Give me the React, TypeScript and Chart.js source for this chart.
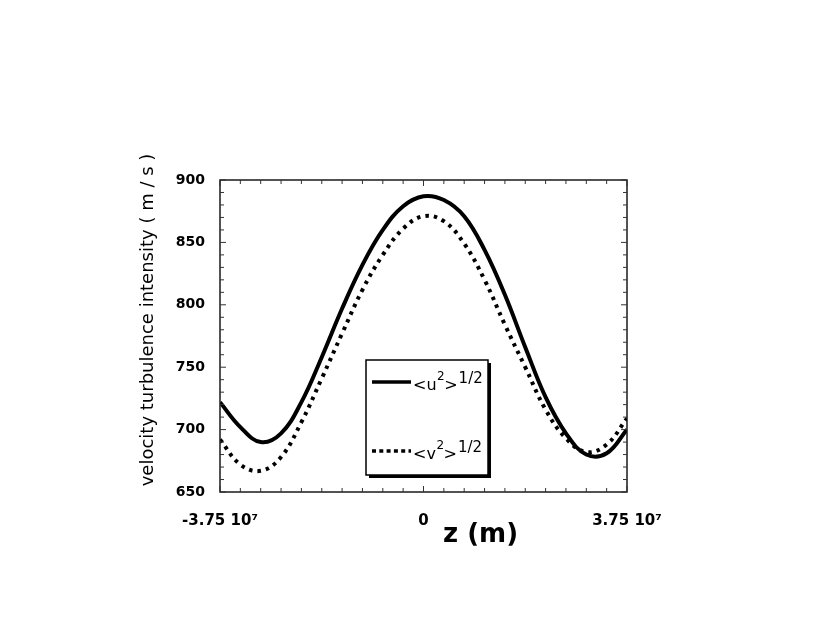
import React, { useRef, useEffect } from "react";
import { Chart, ChartOptions, Plugin, registerables } from "chart.js";

Chart.register(...registerables);

// z positions (m), one sample every 3.75e6 m
const zPositions = [
  -3.75e7, -3.375e7, -3.0e7, -2.625e7, -2.25e7, -1.875e7, -1.5e7, -1.125e7, -7.5e6, -3.75e6, 0,
  3.75e6, 7.5e6, 1.125e7, 1.5e7, 1.875e7, 2.25e7, 2.625e7, 3.0e7, 3.375e7, 3.75e7,
];
// <u^2>^1/2 (solid) and <v^2>^1/2 (dotted), m/s
const uRms = [722, 702, 690, 697, 722, 758, 797, 832, 860, 879, 887, 884, 871, 844, 808, 766, 726, 697, 680, 681, 700];
const vRms = [692, 672, 667, 678, 706, 741, 777, 812, 840, 861, 871, 867, 849, 820, 784, 750, 716, 693, 682, 688, 709];

const xTickValues = [-3.75e7, 0, 3.75e7];
const xTickLabels = ["-3.75 10\u2077", "0", "3.75 10\u2077"];
const legendSymbols = ["u", "v"];

const FONT = "'DejaVu Sans', sans-serif";

const decorations: Plugin = {
  id: "decorations",
  afterDatasetsDraw(chart) {
    const { ctx, chartArea: a, scales } = chart;
    const xs = scales.x;
    const ys = scales.y;
    ctx.save();

    // frame
    ctx.strokeStyle = "#1a1a1a";
    ctx.lineWidth = 1.5;
    ctx.strokeRect(a.left, a.top, a.right - a.left, a.bottom - a.top);

    // inward ticks on all four sides
    ctx.lineWidth = 1;
    ctx.strokeStyle = "#333";
    ctx.beginPath();
    for (let v = 650; v <= 900; v += 10) {
      const y = ys.getPixelForValue(v);
      const len = v % 50 === 0 ? 6 : 4;
      ctx.moveTo(a.left, y);
      ctx.lineTo(a.left + len, y);
      ctx.moveTo(a.right, y);
      ctx.lineTo(a.right - len, y);
    }
    for (let i = 0; i <= 20; i++) {
      const v = -3.75e7 + i * 3.75e6;
      const x = xs.getPixelForValue(v);
      const len = i % 10 === 0 ? 6 : 4;
      ctx.moveTo(x, a.bottom);
      ctx.lineTo(x, a.bottom - len);
      ctx.moveTo(x, a.top);
      ctx.lineTo(x, a.top + len);
    }
    ctx.stroke();

    // legend box with drop shadow
    const bx = 366, by = 360, bw = 122, bh = 115;
    ctx.fillStyle = "#000";
    ctx.fillRect(bx + 3, by + 3, bw, bh);
    ctx.fillStyle = "#fff";
    ctx.fillRect(bx, by, bw, bh);
    ctx.strokeStyle = "#000";
    ctx.lineWidth = 1.5;
    ctx.strokeRect(bx, by, bw, bh);

    const rows = [382, 451];
    legendSymbols.forEach((sym, i) => {
      const ly = rows[i];
      ctx.beginPath();
      ctx.lineWidth = 3.5;
      ctx.lineCap = "butt";
      ctx.setLineDash(i === 0 ? [] : [4, 3.3]);
      ctx.moveTo(372, ly);
      ctx.lineTo(411, ly);
      ctx.stroke();
      ctx.setLineDash([]);

      const base = ly + 8;
      let tx = 413;
      ctx.fillStyle = "#000";
      ctx.textBaseline = "alphabetic";
      ctx.textAlign = "left";
      ctx.font = `16px ${FONT}`;
      ctx.fillText("<" + sym, tx, base);
      tx += ctx.measureText("<" + sym).width;
      ctx.font = `12px ${FONT}`;
      ctx.fillText("2", tx + 0.5, base - 10);
      tx += ctx.measureText("2").width;
      ctx.font = `16px ${FONT}`;
      ctx.fillText(">", tx, base);
      tx += ctx.measureText(">").width + 1;
      ctx.font = `15px ${FONT}`;
      ctx.fillText("1/2", tx, base - 7);
    });

    // axis titles
    ctx.fillStyle = "#000";
    ctx.font = `bold 26px ${FONT}`;
    ctx.textAlign = "left";
    ctx.textBaseline = "middle";
    ctx.fillText("z (m)", 443, 535);

    ctx.translate(148, 320);
    ctx.rotate(-Math.PI / 2);
    ctx.font = `18px ${FONT}`;
    ctx.textAlign = "center";
    ctx.fillText("velocity turbulence intensity ( m / s )", 0, 0);
    ctx.restore();
  },
};

const App: React.FC = () => {
  const canvasRef = useRef<HTMLCanvasElement>(null);

  useEffect(() => {
    if (!canvasRef.current) return;

    const options: ChartOptions<"line"> = {
      animation: false,
      responsive: false,
      layout: { padding: { top: 180, right: 203, left: 0, bottom: 0 } },
      plugins: { legend: { display: false }, tooltip: { enabled: false } },
      elements: { point: { radius: 0 } },
      scales: {
        x: {
          type: "linear",
          min: -3.75e7,
          max: 3.75e7,
          grid: { display: false, drawTicks: false },
          border: { display: false },
          afterBuildTicks: (s) => {
            s.ticks = xTickValues.map((value) => ({ value }));
          },
          afterFit: (s) => {
            s.height = 150;
          },
          ticks: {
            color: "#000",
            font: { family: FONT, size: 15, weight: "bold" },
            padding: 20,
            maxRotation: 0,
            autoSkip: false,
            callback: (value) => xTickLabels[xTickValues.indexOf(Number(value))] ?? "",
          },
        },
        y: {
          type: "linear",
          min: 650,
          max: 900,
          grid: { display: false, drawTicks: false },
          border: { display: false },
          afterFit: (s) => {
            s.width = 220;
          },
          ticks: {
            stepSize: 50,
            color: "#000",
            font: { family: FONT, size: 14, weight: "bold" },
            padding: 15,
          },
        },
      },
    };

    const chart = new Chart(canvasRef.current, {
      type: "line",
      data: {
        datasets: [
          {
            label: "<u2>1/2",
            data: zPositions.map((z, i) => ({ x: z, y: uRms[i] })),
            borderColor: "#000",
            borderWidth: 4,
            tension: 0.4,
            fill: false,
          },
          {
            label: "<v2>1/2",
            data: zPositions.map((z, i) => ({ x: z, y: vRms[i] })),
            borderColor: "#000",
            borderWidth: 4,
            borderDash: [3.5, 5],
            borderCapStyle: "butt",
            tension: 0.4,
            fill: false,
          },
        ],
      },
      options,
      plugins: [decorations],
    });

    return () => {
      chart.destroy();
    };
  }, []);

  return (
    <div style={{ position: "absolute", left: 0, top: 0, width: 830, height: 642, background: "#fff" }}>
      <canvas ref={canvasRef} width={830} height={642} style={{ display: "block" }} />
    </div>
  );
};

export default App;
